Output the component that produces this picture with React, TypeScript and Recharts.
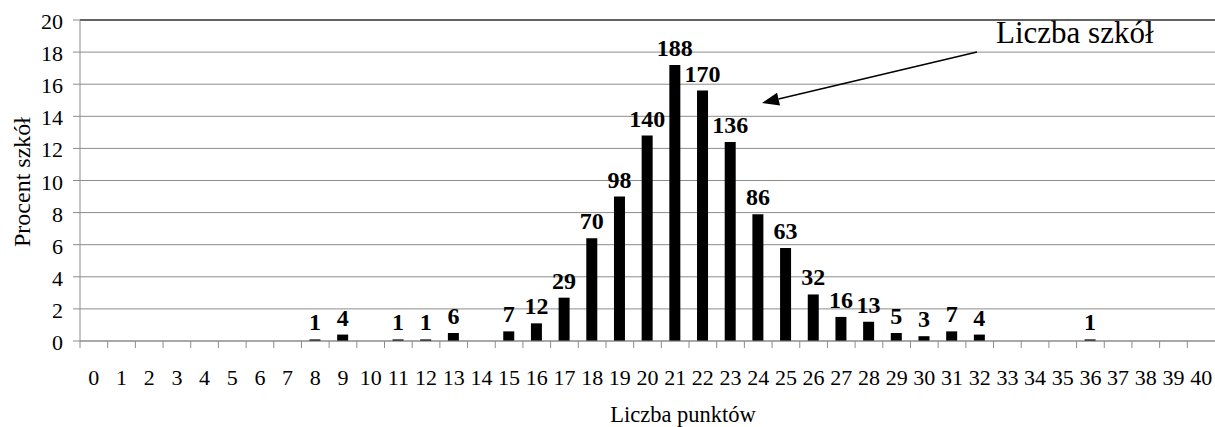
import { BarChart, Bar, XAxis, YAxis, CartesianGrid, ReferenceLine, LabelList } from 'recharts';

// Liczba punktów (0..40)
const categories = [
  '0', '1', '2', '3', '4', '5', '6', '7', '8', '9',
  '10', '11', '12', '13', '14', '15', '16', '17', '18', '19',
  '20', '21', '22', '23', '24', '25', '26', '27', '28', '29',
  '30', '31', '32', '33', '34', '35', '36', '37', '38', '39', '40',
];

// Procent szkół (bar heights)
const percents = [
  null, null, null, null, null, null, null, null, 0.1, 0.4,
  null, 0.1, 0.1, 0.5, null, 0.6, 1.1, 2.7, 6.4, 9.0,
  12.8, 17.2, 15.6, 12.4, 7.9, 5.8, 2.9, 1.5, 1.2, 0.5,
  0.3, 0.6, 0.4, null, null, null, 0.1, null, null, null, null,
];

// Liczba szkół (labels above the bars)
const counts = [
  null, null, null, null, null, null, null, null, 1, 4,
  null, 1, 1, 6, null, 7, 12, 29, 70, 98,
  140, 188, 170, 136, 86, 63, 32, 16, 13, 5,
  3, 7, 4, null, null, null, 1, null, null, null, null,
];

const yTicks = [0, 2, 4, 6, 8, 10, 12, 14, 16, 18, 20];

const FONT = 'Liberation Serif';
const WIDTH = 1215;
const HEIGHT = 427;
const Y_AXIS_W = 80;
const PLOT_TOP = 20;
const X_AXIS_H = 86;
const BAND = (WIDTH - Y_AXIS_W) / categories.length;
const GRID = '#8c8c8c';

const data = categories.map((cat, i) => ({ cat, pct: percents[i], count: counts[i] }));

// ticks sit on the category boundaries, labels in the middle
const XTick = (props: any) => {
  const { x, y, payload } = props;
  const left = x - BAND / 2;
  return (
    <g>
      <line x1={left} y1={y} x2={left} y2={y + 7} stroke={GRID} />
      <text x={x} y={y + 44} textAnchor="middle" fontSize={22} fontFamily={FONT} fill="#000">
        {payload.value}
      </text>
    </g>
  );
};

const YTick = (props: any) => {
  const { x, y, payload } = props;
  return (
    <text x={x} y={y + 9} textAnchor="end" fontSize={22} fontFamily={FONT} fill="#000">
      {payload.value}
    </text>
  );
};

const BarCount = (props: any) => {
  const { x, y, width, value } = props;
  if (value == null) return null;
  return (
    <text
      x={x + width / 2}
      y={y - 9}
      textAnchor="middle"
      fontSize={24}
      fontWeight="bold"
      fontFamily={FONT}
      fill="#000"
    >
      {value}
    </text>
  );
};

// annotation arrow
const tail = { x: 977, y: 52 };
const tip = { x: 762, y: 103 };
const headLen = 17;
const headHalf = 6.5;
const ang = Math.atan2(tip.y - tail.y, tip.x - tail.x);
const baseX = tip.x - headLen * Math.cos(ang);
const baseY = tip.y - headLen * Math.sin(ang);
const head = [
  `${tip.x},${tip.y}`,
  `${baseX + headHalf * Math.sin(ang)},${baseY - headHalf * Math.cos(ang)}`,
  `${baseX - headHalf * Math.sin(ang)},${baseY + headHalf * Math.cos(ang)}`,
].join(' ');

export default function App() {
  return (
    <div style={{ position: 'absolute', left: 0, top: 0, width: WIDTH, height: HEIGHT, background: '#fff' }}>
      <BarChart
        width={WIDTH}
        height={HEIGHT}
        data={data}
        margin={{ top: PLOT_TOP, right: 0, bottom: 0, left: 0 }}
        barCategoryGap={0}
      >
        <CartesianGrid vertical={false} stroke={GRID} />
        <XAxis
          dataKey="cat"
          height={X_AXIS_H}
          interval={0}
          tickSize={0}
          tickMargin={0}
          tickLine={false}
          axisLine={{ stroke: GRID }}
          tick={<XTick />}
        />
        <YAxis
          width={Y_AXIS_W}
          domain={[0, 20]}
          ticks={yTicks}
          interval={0}
          tickSize={7}
          tickMargin={10}
          tickLine={{ stroke: GRID }}
          axisLine={{ stroke: GRID }}
          tick={<YTick />}
        />
        <ReferenceLine y={20} stroke="#000" />
        <Bar dataKey="pct" fill="#000" barSize={11} isAnimationActive={false}>
          <LabelList dataKey="count" content={<BarCount />} />
        </Bar>
      </BarChart>
      <svg
        width={WIDTH}
        height={HEIGHT}
        style={{ position: 'absolute', left: 0, top: 0, pointerEvents: 'none' }}
      >
        <text
          x={30}
          y={182}
          transform="rotate(-90 30 182)"
          textAnchor="middle"
          fontSize={24}
          fontFamily={FONT}
          fill="#000"
        >
          Procent szkół
        </text>
        <text x={683} y={422} textAnchor="middle" fontSize={22.5} fontFamily={FONT} fill="#000">
          Liczba punktów
        </text>
        <text x={996} y={43} fontSize={31} fontFamily={FONT} fill="#000">
          Liczba szkół
        </text>
        <line x1={tail.x} y1={tail.y} x2={baseX} y2={baseY} stroke="#000" strokeWidth={1.5} />
        <polygon points={head} fill="#000" />
      </svg>
    </div>
  );
}
